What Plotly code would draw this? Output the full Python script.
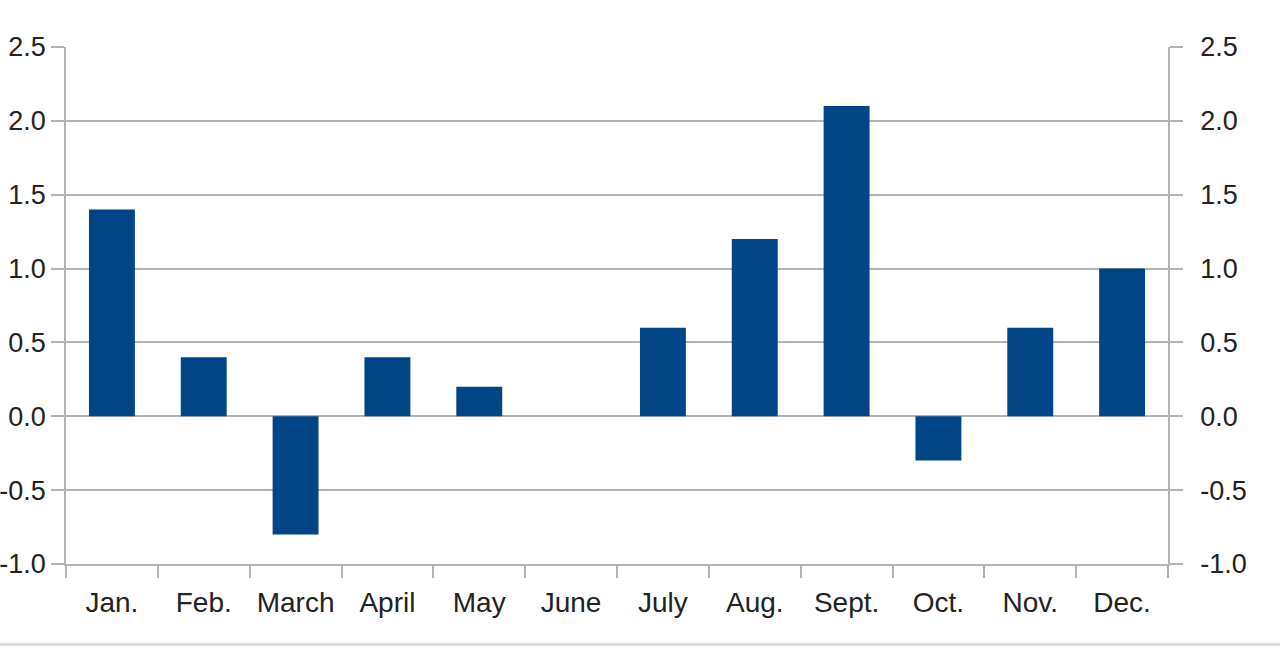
import plotly.graph_objects as go

months = ["Jan.", "Feb.", "March", "April", "May", "June",
          "July", "Aug.", "Sept.", "Oct.", "Nov.", "Dec."]
values = [1.4, 0.4, -0.8, 0.4, 0.2, 0.0, 0.6, 1.2, 2.1, -0.3, 0.6, 1.0]
y_ticks = [-1.0, -0.5, 0.0, 0.5, 1.0, 1.5, 2.0, 2.5]

grid = "#b3b3b3"
txt = "#222222"
font = dict(family="Liberation Sans, Arial, sans-serif", size=28, color=txt)
yfont = dict(font, size=27)

fig = go.Figure()
fig.add_trace(go.Bar(x=months, y=values, width=0.5,
                     marker=dict(color="#004586", line=dict(width=0)),
                     showlegend=False, hoverinfo="x+y"))
# invisible copy so the right-hand axis gets drawn
fig.add_trace(go.Scatter(x=months, y=values, yaxis="y2", mode="markers",
                         marker=dict(opacity=0), showlegend=False,
                         hoverinfo="skip"))

yax = dict(range=[-1.0, 2.5], tickvals=y_ticks, ticktext=[f"{v:.1f}" for v in y_ticks],
           ticks="outside", ticklen=13, tickcolor=grid, tickwidth=1.5,
           showline=True, linecolor=grid, linewidth=1.5,
           tickfont=yfont, fixedrange=True, automargin=False)

fig.update_layout(
    width=1280, height=646,
    margin=dict(l=66, r=112, t=47, b=82),
    paper_bgcolor="white", plot_bgcolor="white",
    xaxis=dict(range=[-0.5, 11.5], tickson="boundaries", ticks="outside",
               ticklen=12, tickcolor=grid, tickwidth=1.5,
               showline=True, linecolor=grid, linewidth=1.5,
               showgrid=False, tickfont=font, ticklabelstandoff=13,
               automargin=False, fixedrange=True),
    yaxis=dict(**yax, showgrid=True, gridcolor=grid, gridwidth=1.5,
               zeroline=False, ticklabelstandoff=0),
    yaxis2=dict(**yax, overlaying="y", side="right", showgrid=False,
                zeroline=False, ticklabelstandoff=12),
    shapes=[dict(type="rect", xref="paper", yref="paper",
                 x0=-0.1, x1=1.2, y0=-0.1586, y1=-0.1528,
                 fillcolor="#dcdcdc", line=dict(width=0))],
)

fig.write_html("out.html", config={"displayModeBar": False},
               post_script="document.body.style.margin='0';")
